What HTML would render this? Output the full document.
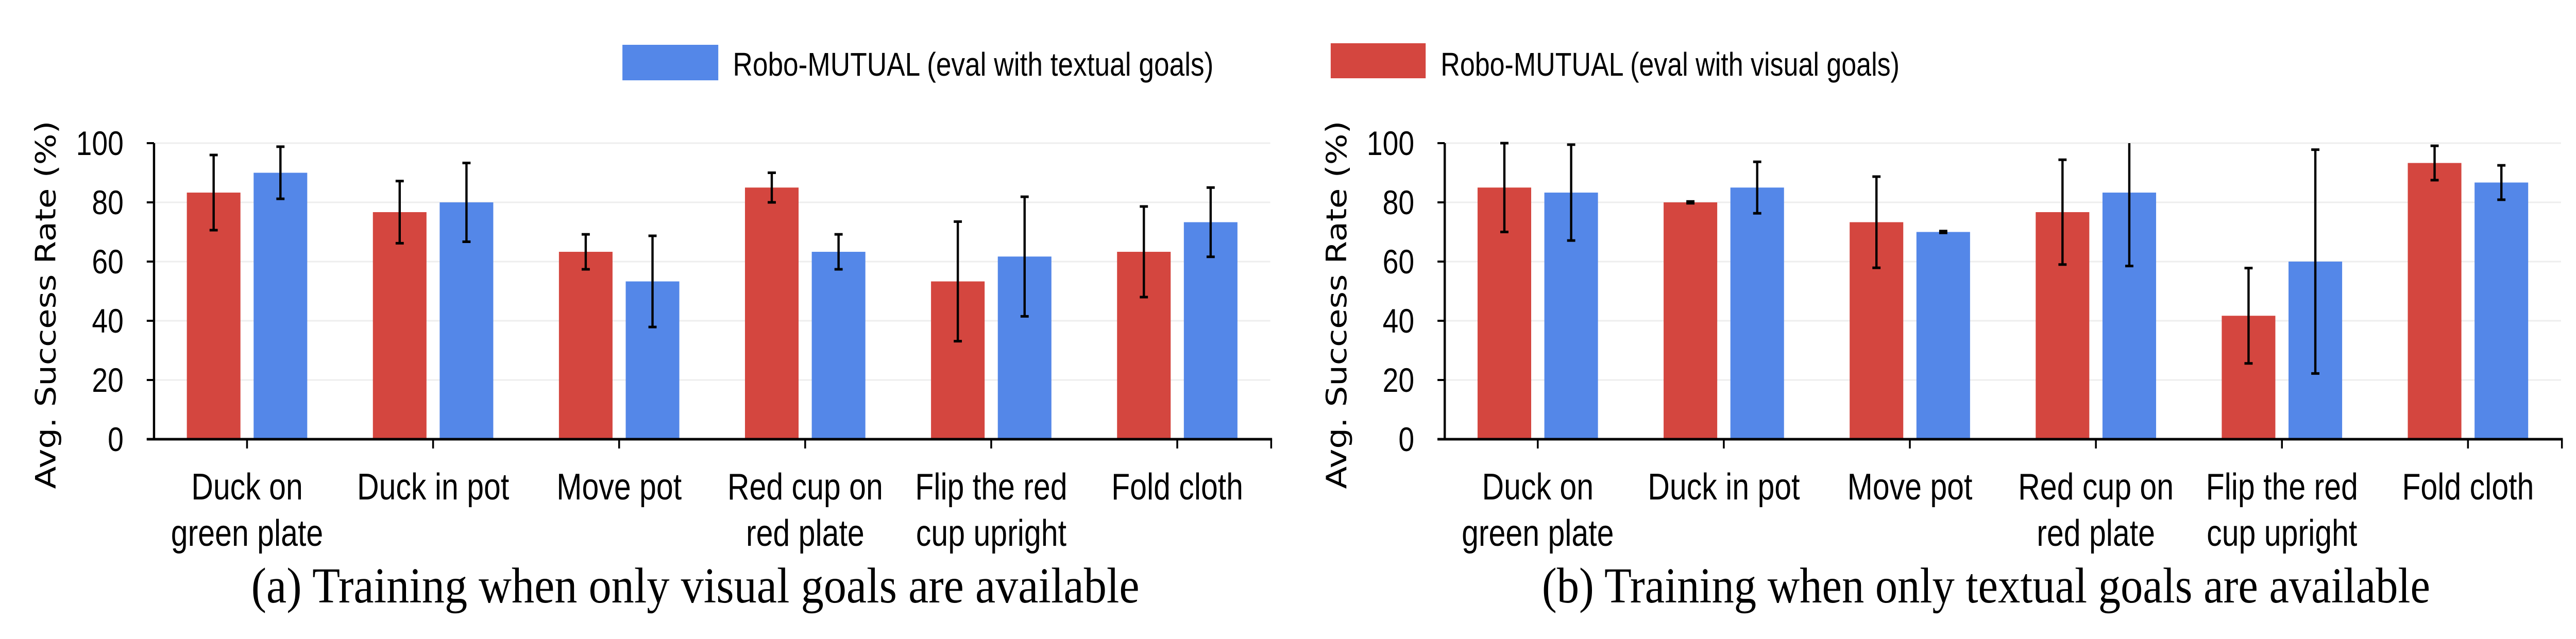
<!DOCTYPE html>
<html><head><meta charset="utf-8"><style>
html,body{margin:0;padding:0;background:#fff;width:100%;height:100%;overflow:hidden;}
svg{display:block;width:100vw;height:100vh;}
</style></head><body>
<svg id="chart" viewBox="0 0 5670 1241" preserveAspectRatio="none" xmlns="http://www.w3.org/2000/svg">
<g>
<rect x="1370" y="87" width="211" height="69" fill="#5487E8"/>
<text x="1613" y="147" font-family="Liberation Sans, sans-serif" font-size="64" textLength="1058" lengthAdjust="spacingAndGlyphs" fill="#000">Robo-MUTUAL (eval with textual goals)</text>
<rect x="2929" y="84" width="209" height="68" fill="#D4463F"/>
<text x="3171" y="147" font-family="Liberation Sans, sans-serif" font-size="64" textLength="1010" lengthAdjust="spacingAndGlyphs" fill="#000">Robo-MUTUAL (eval with visual goals)</text>
</g>
</svg>
<script>
const categories1 = ["Duck on|green plate","Duck in pot","Move pot","Red cup on|red plate","Flip the red|cup upright","Fold cloth"];
const redA = [83.3, 76.7, 63.3, 85, 53.3, 63.3];
const redAErr = [12.7, 10.5, 5.9, 5, 20.2, 15.3];
const blueA = [90, 80, 53.3, 63.3, 61.7, 73.3];
const blueAErr = [8.8, 13.3, 15.4, 5.9, 20.2, 11.7];
const redB = [85, 80, 73.3, 76.7, 41.7, 93.3];
const redBErr = [15, 0.3, 15.4, 17.7, 16.1, 5.8];
const blueB = [83.3, 85, 70, 83.3, 60, 86.7];
const blueBErr = [16.2, 8.7, 0.3, 24.8, 37.8, 5.8];
const yTicks = [0, 20, 40, 60, 80, 100];

const NS = "http://www.w3.org/2000/svg";
const svg = document.getElementById('chart');
function mk(tag, attrs, parent){const e=document.createElementNS(NS,tag);for(const k in attrs)e.setAttribute(k,attrs[k]);(parent||svg).appendChild(e);return e;}

function panel(ox, red, redErr, blue, blueErr, caption, pname){
  const g = mk('g',{});
  
  
  const x0 = ox + 339, x1 = ox + 2796, yTop = 278, yBot = 853;
  const y = v => yBot - (Math.min(v,100)/100)*(yBot-yTop);
  const band = (x1-x0)/categories1.length;
  yTicks.forEach(t=>{
    if(t>0){const l=mk('line',{x1:x0,x2:x1,y1:y(t),y2:y(t),stroke:'#eeeeee','stroke-width':3},g);
    
    }
    const tk=mk('line',{x1:x0-16,x2:x0,y1:y(t),y2:y(t),stroke:'#000','stroke-width':4},g);
    
    
    const tx=mk('text',{x:x0-67,y:y(t)+23,'font-family':'Liberation Sans, sans-serif','font-size':66,'text-anchor':'end',fill:'#000',transform:`translate(${x0-67} 0) scale(0.95 1) translate(${-(x0-67)} 0)`},g);
    tx.textContent=t;
    
    
  });
  categories1.forEach((c,i)=>{
    const cx = x0 + band*(i+0.5);
    [[red,redErr,'#D4463F',cx-132.5,'bar-visual'],[blue,blueErr,'#5487E8',cx+14.5,'bar-textual']].forEach(([vals,errs,col,bx,nm])=>{
      const v=vals[i];
      const r=mk('rect',{x:bx,y:y(v),width:118,height:yBot-y(v),fill:col},g);
      
      
      const ex=bx+59, top=v+errs[i], bot=v-errs[i];
      const eg=mk('g',{stroke:'#000','stroke-width':5},g);
      
      
      mk('line',{x1:ex,x2:ex,y1:y(top),y2:y(bot)},eg);
      if(top<=100.5) mk('line',{x1:ex-9,x2:ex+9,y1:y(top),y2:y(top)},eg);
      mk('line',{x1:ex-9,x2:ex+9,y1:y(bot),y2:y(bot)},eg);
    });
    const tk=mk('line',{x1:cx,x2:cx,y1:yBot,y2:yBot+18,stroke:'#000','stroke-width':4},g);
    
    
    const lines=c.split('|');
    lines.forEach((ln,j)=>{
      const t=mk('text',{x:cx,y:970+j*90,'font-family':'Liberation Sans, sans-serif','font-size':72,'text-anchor':'middle',fill:'#000',transform:`translate(${cx} 0) scale(0.93 1) translate(${-cx} 0)`},g);
      t.textContent=ln;
      
      
    });
  });
  const ya=mk('line',{x1:x0,x2:x0,y1:yTop,y2:yBot+2,stroke:'#000','stroke-width':5},g);
  
  
  const xa=mk('line',{x1:x0-16,x2:x1+4,y1:yBot,y2:yBot,stroke:'#000','stroke-width':5},g);
  
  
  mk('line',{x1:x1+2,x2:x1+2,y1:yBot,y2:yBot+18,stroke:'#000','stroke-width':4},g);
  const yt=mk('text',{x:0,y:0,'font-family':'DejaVu Sans, sans-serif','font-size':62,'text-anchor':'middle',fill:'#000',transform:`translate(${ox+122} 592) rotate(-90)`,textLength:715,lengthAdjust:'spacingAndGlyphs'},g);
  yt.textContent='Avg. Success Rate (%)';
  
  
  const cap=mk('text',{x:ox+553,y:1170,'font-family':'Liberation Serif, serif','font-size':98,fill:'#000',textLength:1955,lengthAdjust:'spacingAndGlyphs'},g);
  cap.textContent=caption;
  
  
}
panel(0, redA, redAErr, blueA, blueAErr, '(a) Training when only visual goals are available', 'panel-a');
panel(2841, redB, redBErr, blueB, blueBErr, '(b) Training when only textual goals are available', 'panel-b');
</script>
</body></html>
